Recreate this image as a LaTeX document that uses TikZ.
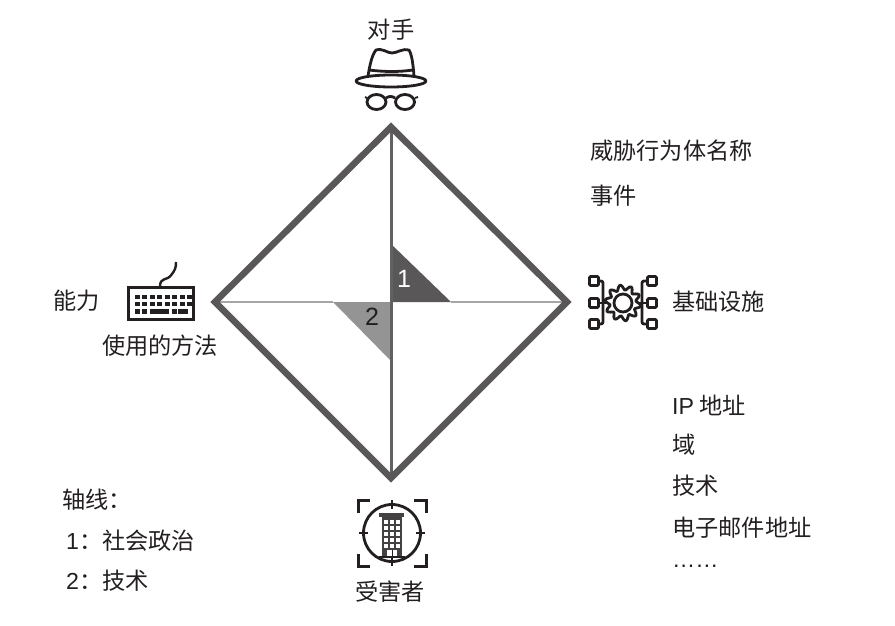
\documentclass[tikz,border=0pt]{standalone}
\usepackage{fontspec}
\setmainfont{Liberation Sans}
\newfontfamily\cjk{Noto Sans CJK SC}
\definecolor{rim}{HTML}{595757}
\definecolor{ink}{HTML}{231F20}
\begin{document}
\begin{tikzpicture}[x=1pt,y=-1pt,
  txt/.style = {inner sep=0pt,text=ink,font=\fontsize{23.2}{26}\selectfont\cjk},
  lft/.style = {txt,anchor=west},
  icon/.style = {draw=ink,line width=2.8pt,line join=round},
  key/.style = {fill=ink,draw=none}]
\useasboundingbox (0,0) rectangle (895,626);
% corners of the diamond
\coordinate (top) at (391,127);
\coordinate (right) at (567,302);
\coordinate (bottom) at (391,478);
\coordinate (left) at (215,302);
\coordinate (mid) at (391,302);
\coordinate (tipa) at (391,244);
\coordinate (tipb) at (451,302);
\coordinate (tipc) at (333,302);
\coordinate (tipd) at (391,361);
% axis triangles
\fill[rim] (mid) -- (tipa) -- (tipb) -- cycle;
\fill[black!42] (mid) -- (tipc) -- (tipd) -- cycle;
\draw[black!62,line width=3pt] (top) -- (bottom);
\draw[black!35,line width=2.8pt] (left) -- (tipc);
\draw[black!35,line width=2.8pt] (tipb) -- (right);
\draw[rim,line width=6.5pt,miter limit=4] (top) -- (right) -- (bottom) -- (left) -- cycle;
\node[inner sep=0pt,text=white,font=\fontsize{25}{26}\selectfont] (one) at (404,279) {1};
\node[inner sep=0pt,text=ink,font=\fontsize{25}{26}\selectfont] (two) at (372,317) {2};
% texts
\node[txt] (adversary) at (391,30) {对手};
\node[lft] (name) at (590,151) {威胁行为体名称};
\node[lft] (event) at (590,196) {事件};
\node[lft] (infra) at (672,302) {基础设施};
\node[lft] (ip) at (672,405) {{\rmfamily IP} 地址};
\node[lft] (domain) at (672,445) {域};
\node[lft] (tech) at (672,486) {技术};
\node[lft] (mail) at (672,528) {电子邮件地址};
\node[lft] (more) at (672,566) {{\rmfamily ……}};
\node[lft] (capability) at (53,301) {能力};
\node[txt] (method) at (160,346) {使用的方法};
\node[lft] (axis) at (62,500) {轴线：};
\node[lft] (axisa) at (66,541) {{\rmfamily 1}：社会政治};
\node[lft] (axisb) at (66,581) {{\rmfamily 2}：技术};
\node[txt] (victim) at (390,592) {受害者};
% hat and glasses
\draw[icon,fill=white] (368,76) .. controls (370,64) and (372,55) .. (376,50) .. controls (383,48) and (387,53) .. (392,53) .. controls (397,53) and (403,48) .. (409,50) .. controls (412,55) and (413,64) .. (414,76);
\draw[icon] (369,70) .. controls (385,72) and (399,72) .. (413,70);
\draw[icon] (391,81) ellipse [x radius=35,y radius=6];
\draw[icon] (376.5,102) ellipse [x radius=9.5,y radius=7.5];
\draw[icon] (405,102) ellipse [x radius=9.5,y radius=7.5];
\draw[icon] (386,98) .. controls (389,96) and (392,96) .. (395,98);
\draw[icon,line width=1.8pt] (367,98) -- (365,97);
\draw[icon,line width=1.8pt] (415,98) -- (418,97);
% keyboard
\draw[icon,line width=3pt,line join=miter] (128,287) rectangle (193,319);
\draw[icon,line width=2.4pt] (160,287) .. controls (160,276) and (167,282) .. (172,274) .. controls (175,270) and (176,268) .. (176,262);
\foreach \row in {294.5,301.5} {
  \foreach \col in {0,...,7} {
    \fill[key] ({134.5+\col*7.5},\row) rectangle ++(5,4.6);
  }
}
\fill[key] (134.5,309) rectangle ++(5,4.6);
\fill[key] (142,309) rectangle ++(5,4.6);
\fill[key] (150,309) rectangle ++(19,4.6);
\fill[key] (172,309) rectangle ++(4.6,4.6);
\fill[key] (178,309) rectangle ++(9.5,4.6);
% gear and boxes
\foreach \by in {281,303,324} {
  \draw[icon,fill=white,rounded corners=1pt] (589.5,\by-4.5) rectangle ++(9,9);
  \draw[icon,fill=white,rounded corners=1pt] (647.5,\by-4.5) rectangle ++(9,9);
}
\draw[icon,rounded corners=2pt] (599,281) -- (603,281) -- (603,324) -- (599,324);
\draw[icon,rounded corners=2pt] (647,281) -- (642,281) -- (642,324) -- (647,324);
\draw[icon] (599,303) -- (608,303);
\draw[icon] (638,303) -- (647,303);
\draw[icon,fill=white] plot[domain=0:360,samples=91] ({623+(15.5+2.5*sin(10*\x))*cos(\x)},{303+(15.5+2.5*sin(10*\x))*sin(\x)}) -- cycle;
\draw[icon] (623,303) circle (9);
% target and building
\draw[icon] (392,533) circle (28.5);
\draw[icon,line width=1.8pt] (392,500) -- (392,509);
\draw[icon,line width=1.8pt] (392,557) -- (392,566);
\draw[icon,line width=1.8pt] (359,533) -- (368,533);
\draw[icon,line width=1.8pt] (416,533) -- (425,533);
\draw[icon,line width=3pt,line join=miter] (358,513) -- (358,500) -- (370,500);
\draw[icon,line width=3pt,line join=miter] (414,500) -- (426,500) -- (426,513);
\draw[icon,line width=3pt,line join=miter] (358,554) -- (358,566) -- (370,566);
\draw[icon,line width=3pt,line join=miter] (414,566) -- (426,566) -- (426,554);
\fill[ink!85] (379,513) rectangle (404,517);
\fill[ink!85] (382,517) rectangle (402,557);
\foreach \wy in {0,...,4} {
  \foreach \wx in {0,...,2} {
    \fill[white] ({384+\wx*6},{520+\wy*6}) rectangle ++(3.8,3.8);
  }
}
\fill[white] (387,550) rectangle (397,557);
\draw[ink,line width=1pt] (392,550) -- (392,557);
\draw[ink,line width=1.6pt] (379,557) -- (405,557);
\end{tikzpicture}
\end{document}
